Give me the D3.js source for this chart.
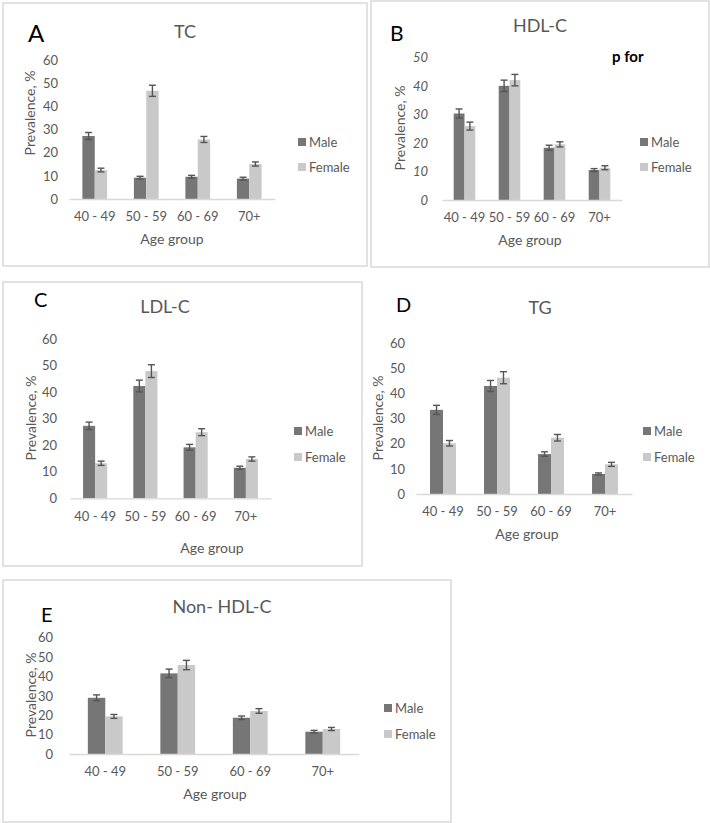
<!DOCTYPE html>
<html>
<head>
<meta charset="utf-8">
<script src="https://cdn.jsdelivr.net/npm/d3@7"></script>
<style>
  body { margin: 0; background: #fff; }
  svg text { font-family: Lato, "Open Sans", sans-serif; }
</style>
</head>
<body>
<div id="chart"></div>
<script>
// categories and series
const ageGroups = ["40 - 49", "50 - 59", "60 - 69", "70+"];
const seriesNames = ["Male", "Female"];

// prevalence values (%), with error half-widths
const tcMale = [27.2, 9.2, 9.6, 8.8];
const tcFemale = [12.5, 46.7, 25.7, 15.1];
const tcMaleErr = [1.5, 0.6, 0.6, 0.6];
const tcFemaleErr = [0.8, 2.4, 1.3, 0.9];

const hdlMale = [30.3, 40.0, 18.3, 10.5];
const hdlFemale = [25.9, 42.0, 19.5, 11.3];
const hdlMaleErr = [1.6, 2.0, 0.9, 0.5];
const hdlFemaleErr = [1.4, 2.0, 0.9, 0.7];

const ldlMale = [27.3, 42.3, 19.2, 11.5];
const ldlFemale = [13.2, 47.9, 24.9, 14.8];
const ldlMaleErr = [1.4, 2.2, 1.1, 0.6];
const ldlFemaleErr = [0.8, 2.4, 1.3, 0.8];

const tgMale = [33.5, 43.0, 15.9, 8.0];
const tgFemale = [20.2, 46.3, 22.4, 11.8];
const tgMaleErr = [1.8, 2.2, 0.9, 0.4];
const tgFemaleErr = [1.1, 2.4, 1.3, 0.8];

const nonHdlMale = [29.0, 41.6, 18.7, 11.5];
const nonHdlFemale = [19.4, 45.9, 22.2, 12.9];
const nonHdlMaleErr = [1.5, 2.2, 0.9, 0.7];
const nonHdlFemaleErr = [1.0, 2.4, 1.2, 0.8];

// tick values
const ticks60 = [0, 10, 20, 30, 40, 50, 60];
const ticks50 = [0, 10, 20, 30, 40, 50];

const maleColor = "#767676";
const femaleColor = "#c9c9c9";
const textColor = "#595959";
const lineColor = "#d9d9d9";

// one entry per panel: where things sit on the page
const panels = [
  {letter: "A", title: "TC", male: tcMale, female: tcFemale, maleErr: tcMaleErr, femaleErr: tcFemaleErr,
   ticks: ticks60, box: [3, 3, 367, 266], letterPos: [28, 42, 24], titlePos: [185, 38],
   y0: 199, yTop: 60, xRange: [69, 275], tickX: 58, legend: [298, 142, 167],
   ageLabel: [172, 244], prevLabel: [30, 113]},
  {letter: "B", title: "HDL-C", male: hdlMale, female: hdlFemale, maleErr: hdlMaleErr, femaleErr: hdlFemaleErr,
   ticks: ticks50, box: [371, 1, 709, 267], letterPos: [390, 41, 21], titlePos: [540, 32],
   y0: 200, yTop: 57.3, xRange: [442, 622], tickX: 428, legend: [640, 142, 167],
   ageLabel: [530, 245], prevLabel: [400, 128], italicTicks: true, note: [612, 62, "p for"]},
  {letter: "C", title: "LDL-C", male: ldlMale, female: ldlFemale, maleErr: ldlMaleErr, femaleErr: ldlFemaleErr,
   ticks: ticks60, box: [3, 282, 362, 566], letterPos: [34, 307, 20], titlePos: [165, 313],
   y0: 498.3, yTop: 339, xRange: [70, 271], tickX: 57, legend: [294, 431, 457],
   ageLabel: [212, 553], prevLabel: [31, 418]},
  {letter: "D", title: "TG", male: tgMale, female: tgFemale, maleErr: tgMaleErr, femaleErr: tgFemaleErr,
   ticks: ticks60, box: null, letterPos: [396, 312, 20], titlePos: [540, 314],
   y0: 494, yTop: 343.3, xRange: [416, 632], tickX: 405, legend: [643, 431, 457],
   ageLabel: [527, 539], prevLabel: [378, 418]},
  {letter: "E", title: "Non- HDL-C", male: nonHdlMale, female: nonHdlFemale, maleErr: nonHdlMaleErr, femaleErr: nonHdlFemaleErr,
   ticks: ticks60, box: [3, 580, 451, 822], letterPos: [41, 622, 20], titlePos: [222, 613],
   y0: 754, yTop: 637.7, xRange: [69, 359], tickX: 53, legend: [384, 708, 734],
   ageLabel: [215, 799], prevLabel: [31, 695]}
];

const svg = d3.select("#chart")
  .append("svg")
  .attr("width", 710)
  .attr("height", 823);

panels.forEach(drawPanel);

function drawPanel(p) {
  const g = svg.append("g");

  if (p.box) {
    g.append("rect")
      .attr("x", p.box[0]).attr("y", p.box[1])
      .attr("width", p.box[2] - p.box[0]).attr("height", p.box[3] - p.box[1])
      .attr("fill", "none")
      .attr("stroke", lineColor)
      .attr("stroke-width", 1.5);
  }

  // scales
  const yMax = d3.max(p.ticks);
  const y = d3.scaleLinear().domain([0, yMax]).range([p.y0, p.yTop]);
  const x0 = d3.scaleBand().domain(ageGroups).range(p.xRange).padding(0);
  const bw = x0.bandwidth();
  const x1 = d3.scaleBand().domain(seriesNames).range([bw * 0.26, bw * 0.74]).padding(0);
  const color = d3.scaleOrdinal().domain(seriesNames).range([maleColor, femaleColor]);

  // y tick labels only
  const yAxis = g.append("g")
    .attr("transform", `translate(${p.tickX},0)`)
    .call(d3.axisLeft(y).tickValues(p.ticks).tickSize(0).tickPadding(0));
  yAxis.select(".domain").remove();
  yAxis.selectAll("text")
    .attr("fill", textColor)
    .style("font-size", "13px")
    .style("font-style", p.italicTicks ? "italic" : "normal");

  // bars
  const rows = ageGroups.map((a, i) => ({
    age: a,
    vals: [
      {s: "Male", v: p.male[i], e: p.maleErr[i]},
      {s: "Female", v: p.female[i], e: p.femaleErr[i]}
    ]
  }));

  const groups = g.append("g").selectAll("g")
    .data(rows)
    .join("g")
    .attr("transform", d => `translate(${x0(d.age)},0)`);

  groups.selectAll("rect")
    .data(d => d.vals)
    .join("rect")
    .attr("x", d => x1(d.s))
    .attr("y", d => y(d.v))
    .attr("width", x1.bandwidth())
    .attr("height", d => y(0) - y(d.v))
    .attr("fill", d => color(d.s));

  // error bars
  const cap = 3.5;
  const eb = groups.selectAll("g.err")
    .data(d => d.vals)
    .join("g")
    .attr("class", "err")
    .attr("stroke", "#555555")
    .attr("stroke-width", 1.4);
  eb.append("line")
    .attr("x1", d => x1(d.s) + x1.bandwidth() / 2)
    .attr("x2", d => x1(d.s) + x1.bandwidth() / 2)
    .attr("y1", d => y(d.v + d.e))
    .attr("y2", d => y(d.v - d.e));
  eb.append("line")
    .attr("x1", d => x1(d.s) + x1.bandwidth() / 2 - cap)
    .attr("x2", d => x1(d.s) + x1.bandwidth() / 2 + cap)
    .attr("y1", d => y(d.v + d.e))
    .attr("y2", d => y(d.v + d.e));
  eb.append("line")
    .attr("x1", d => x1(d.s) + x1.bandwidth() / 2 - cap)
    .attr("x2", d => x1(d.s) + x1.bandwidth() / 2 + cap)
    .attr("y1", d => y(d.v - d.e))
    .attr("y2", d => y(d.v - d.e));

  // x axis
  const xAxis = g.append("g")
    .attr("transform", `translate(0,${p.y0})`)
    .call(d3.axisBottom(x0).tickSize(0).tickPadding(13).tickSizeOuter(0));
  xAxis.select(".domain").attr("stroke", lineColor).attr("stroke-width", 1.3);
  xAxis.selectAll("text")
    .attr("fill", textColor)
    .style("font-size", "13px");

  // titles
  g.append("text")
    .attr("x", p.letterPos[0]).attr("y", p.letterPos[1])
    .attr("fill", "#000")
    .style("font-size", p.letterPos[2] + "px")
    .text(p.letter);

  g.append("text")
    .attr("x", p.titlePos[0]).attr("y", p.titlePos[1])
    .attr("text-anchor", "middle")
    .attr("fill", textColor)
    .style("font-size", "18px")
    .text(p.title);

  g.append("text")
    .attr("x", p.ageLabel[0]).attr("y", p.ageLabel[1])
    .attr("text-anchor", "middle")
    .attr("fill", textColor)
    .style("font-size", "14px")
    .text("Age group");

  g.append("text")
    .attr("transform", `translate(${p.prevLabel[0]},${p.prevLabel[1]}) rotate(-90)`)
    .attr("text-anchor", "middle")
    .attr("dy", "0.35em")
    .attr("fill", textColor)
    .style("font-size", "14px")
    .text("Prevalence, %");

  // legend
  seriesNames.forEach((s, i) => {
    const ly = p.legend[1 + i];
    g.append("rect")
      .attr("x", p.legend[0]).attr("y", ly - 4)
      .attr("width", 8).attr("height", 8)
      .attr("fill", color(s));
    g.append("text")
      .attr("x", p.legend[0] + 11).attr("y", ly)
      .attr("dy", "0.35em")
      .attr("fill", textColor)
      .style("font-size", "13px")
      .text(s);
  });

  if (p.note) {
    g.append("text")
      .attr("x", p.note[0]).attr("y", p.note[1])
      .attr("fill", "#000")
      .style("font-size", "15px")
      .style("font-weight", "bold")
      .text(p.note[2]);
  }
}
</script>
</body>
</html>
